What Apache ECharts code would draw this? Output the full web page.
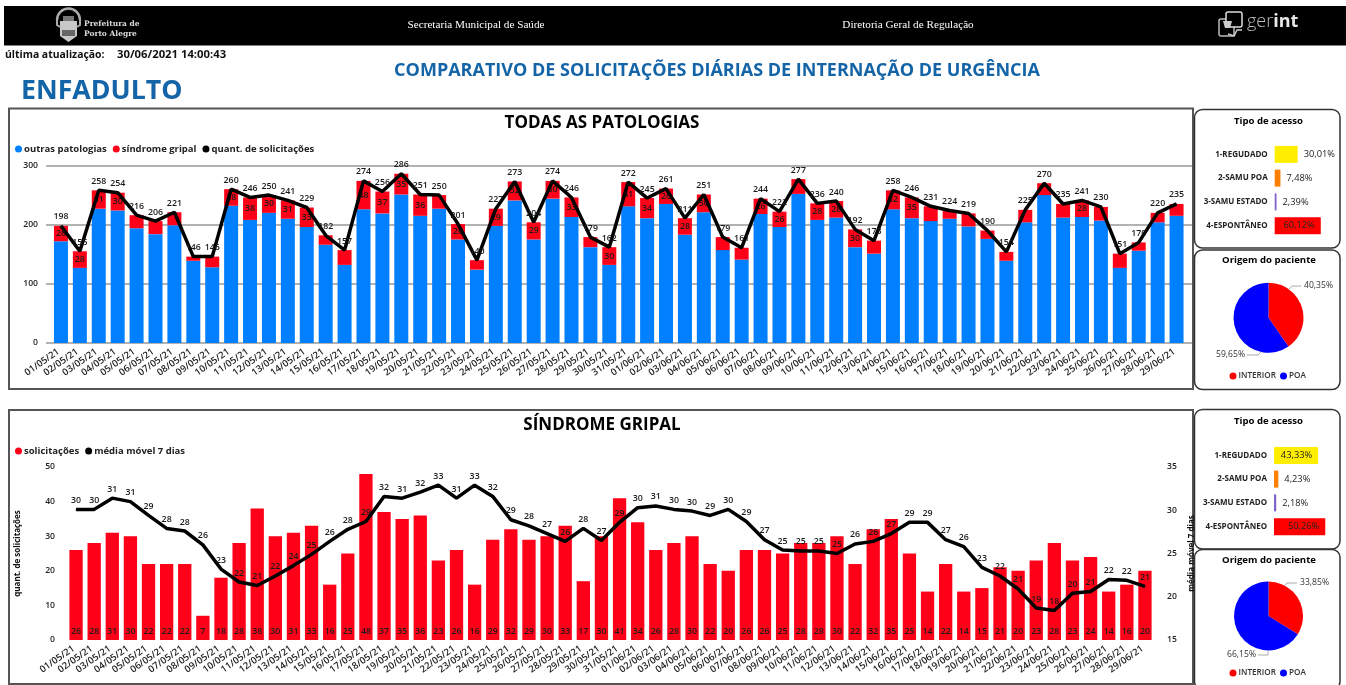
<!DOCTYPE html>
<html><head><meta charset="utf-8">
<script src="https://cdn.jsdelivr.net/npm/echarts@6/dist/echarts.min.js"></script>
<style>html,body{margin:0;padding:0;background:#fff}#c{width:1346px;height:685px}</style>
</head><body><div id="c"></div>
<script>
const dates = ["01/05/21","02/05/21","03/05/21","04/05/21","05/05/21","06/05/21","07/05/21","08/05/21","09/05/21","10/05/21","11/05/21","12/05/21","13/05/21","14/05/21","15/05/21","16/05/21","17/05/21","18/05/21","19/05/21","20/05/21","21/05/21","22/05/21","23/05/21","24/05/21","25/05/21","26/05/21","27/05/21","28/05/21","29/05/21","30/05/21","31/05/21","01/06/21","02/06/21","03/06/21","04/06/21","05/06/21","06/06/21","07/06/21","08/06/21","09/06/21","10/06/21","11/06/21","12/06/21","13/06/21","14/06/21","15/06/21","16/06/21","17/06/21","18/06/21","19/06/21","20/06/21","21/06/21","22/06/21","23/06/21","24/06/21","25/06/21","26/06/21","27/06/21","28/06/21","29/06/21"];
const outrasPatologias = [172,127,227,224,194,184,199,139,128,232,208,220,210,196,166,132,226,219,251,215,227,175,124,198,241,175,244,213,162,132,231,211,235,183,221,157,141,218,196,252,208,212,162,151,226,211,206,210,197,176,139,204,250,212,213,207,127,156,204,215];
const sindromeGripal = [26,28,31,30,22,22,22,7,18,28,38,30,31,33,16,25,48,37,35,36,23,26,16,29,32,29,30,33,17,30,41,34,26,28,30,22,20,26,26,25,28,28,30,22,32,35,25,14,22,14,15,21,20,23,28,23,24,14,16,20];
const quantSolicitacoes = [198,155,258,254,216,206,221,146,146,260,246,250,241,229,182,157,274,256,286,251,250,201,140,227,273,204,274,246,179,162,272,245,261,211,251,179,161,244,222,277,236,240,192,173,258,246,231,224,219,190,154,225,270,235,241,230,151,170,220,235];
const mediaMovel = [30.1,30.1,31.4,31.0,29.4,27.9,27.6,26.0,23.2,21.7,21.3,22.4,23.6,24.9,26.4,27.8,28.7,31.6,31.4,32.1,32.9,31.4,32.9,31.6,28.9,28.2,27.3,26.4,27.9,26.5,28.6,30.3,30.5,30.1,29.9,29.4,30.1,28.7,26.6,25.4,25.3,25.3,25.0,26.1,26.4,27.3,28.6,28.6,26.6,25.8,23.4,22.4,20.9,18.7,18.4,20.4,20.6,22.0,21.9,21.2];
const acessoCategorias = ["1-REGUDADO","2-SAMU POA","3-SAMU ESTADO","4-ESPONTÂNEO"];
const acessoCores = ["#ffee00","#ff8000","#8064c8","#ff0000"];
const acessoTodas = [30.01,7.48,2.39,60.12];
const acessoGripal = [43.33,4.23,2.18,50.26];
const origemNomes = ["INTERIOR","POA"];
const origemTodas = [40.35,59.65];
const origemGripal = [33.85,66.15];

const BLUE='#0080ff', RED='#ff0019', FONT='"Open Sans"';
const br = v => v.toFixed(2).replace('.',',')+'%';
const txt = {fontFamily:FONT,fontSize:9.5,fontWeight:600,color:'#222'};
const dataLbl = {fontFamily:FONT,fontSize:8.8,fontWeight:600,color:'#1a1a1a'};

const chart = echarts.init(document.getElementById('c'),null,{renderer:'canvas'});

function acessoSeries(values,xi,yi,minInside){
  return {type:'bar',xAxisIndex:xi,yAxisIndex:yi,barWidth:17,silent:true,
    data:values.map((v,i)=>({value:v,itemStyle:{color:acessoCores[i]},
      label:v>=minInside?{position:'insideRight',distance:6}:{position:'right',distance:6}})),
    label:{show:true,formatter:p=>br(p.value),fontFamily:FONT,fontSize:9.3,fontWeight:500,color:'#222'}};
}
function origemSeries(values,center,radius){
  return {type:'pie',center,radius,startAngle:90,clockwise:true,silent:true,
    data:values.map((v,i)=>({name:origemNomes[i],value:v,itemStyle:{color:i?'#0000ff':'#ff0000'}})),
    label:{show:false},labelLine:{show:false}};
}
const title=(text,x,y,size,color,extra)=>Object.assign({text,left:x,top:y,textAlign:'center',textVerticalAlign:'middle',padding:0,
  textStyle:{fontFamily:FONT,fontSize:size,fontWeight:700,color:color||'#000'}},extra||{});
const panel=(x,y,w,h,r)=>({type:'rect',z:0,shape:{x,y,width:w,height:h,r:r||0},style:{fill:'none',stroke:r?'#333':'#555',lineWidth:r?1.5:2}});
const leader=(pts)=>({type:'polyline',z:1,shape:{points:pts},style:{stroke:'#aaa',lineWidth:1,fill:'none'}});
const pctText=(v,x,y)=>({type:'text',z:3,x,y,style:{text:br(v),fontFamily:FONT,fontSize:8.6,fontWeight:500,fill:'#333',verticalAlign:'middle'}});
const serifTitle=(t,x,y)=>title(t,x,y,11.2,'#fff',{textStyle:{fontFamily:'"Liberation Serif"',fontSize:11.2,fontWeight:400,color:'#fff'}});
const legendBase={orient:'horizontal',icon:'circle',itemWidth:7,itemHeight:7,itemGap:6,padding:0,selectedMode:false,
  textStyle:{fontFamily:FONT,fontSize:9.5,fontWeight:700,color:'#222',padding:[0,0,0,-3]}};
const pieLegendText={fontFamily:FONT,fontSize:8.2,fontWeight:600,color:'#333',padding:[0,0,0,-3]};

chart.setOption({
  animation:false,
  backgroundColor:'#fff',
  title:[
    {text:'última atualização:',left:5,top:50,padding:0,textStyle:{fontFamily:FONT,fontSize:10.4,fontWeight:700,color:'#111'}},
    {text:'30/06/2021 14:00:43',left:117,top:49,padding:0,textStyle:{fontFamily:FONT,fontSize:11.3,fontWeight:700,color:'#111'}},
    title('COMPARATIVO DE SOLICITAÇÕES DIÁRIAS DE INTERNAÇÃO DE URGÊNCIA',717,71,18,'#1464a8'),
    {text:'ENFADULTO',left:21,top:78,padding:0,textStyle:{fontFamily:FONT,fontSize:26.7,fontWeight:700,color:'#1464a8'}},
    title('TODAS AS PATOLOGIAS',602,123,17),
    title('SÍNDROME GRIPAL',602,425,17),
    title('Tipo de acesso',1268.5,121,9.6),
    title('Origem do paciente',1269,260,9.6),
    title('Tipo de acesso',1268.5,421,9.6),
    title('Origem do paciente',1269,560,9.6),
    serifTitle('Secretaria Municipal de Saúde',476,25),
    serifTitle('Diretoria Geral de Regulação',908,25),
    {text:'Prefeitura de\nPorto Alegre',left:84,top:19,padding:0,textStyle:{fontFamily:'"DejaVu Serif"',fontSize:7.5,lineHeight:10,fontWeight:700,color:'#ddd'}},
    {text:'{a|ger}{b|int}',left:1247,top:13,padding:0,textStyle:{rich:{a:{fontFamily:FONT,fontSize:18,fontWeight:300,color:'#bbb'},b:{fontFamily:FONT,fontSize:18,fontWeight:700,color:'#e8e8e8'}}}}
  ],
  legend:[
    Object.assign({},legendBase,{left:15,top:144,data:['outras patologias','síndrome gripal','quant. de solicitações']}),
    Object.assign({},legendBase,{left:15,top:446,data:['solicitações','média móvel 7 dias']}),
    Object.assign({},legendBase,{left:1229.5,top:372,itemGap:4,textStyle:pieLegendText,data:origemNomes}),
    Object.assign({},legendBase,{left:1229.5,top:669,itemGap:4,textStyle:pieLegendText,data:origemNomes})
  ],
  grid:[
    {left:46,width:1146,top:165.5,height:177.5},
    {left:51.5,width:1134.5,top:165.5,height:177.5},
    {left:67,width:1087,top:467,height:173},
    {left:1274.7,width:61.3,top:142.5,height:95},
    {left:1274,width:61.2,top:443.5,height:95}
  ],
  xAxis:[
    {gridIndex:0,type:'value',show:false,min:0,max:1},
    {gridIndex:1,type:'category',data:dates,boundaryGap:true,axisLine:{show:false},axisTick:{show:false},
      axisLabel:Object.assign({},txt,{interval:0,rotate:35,margin:6,padding:[0,3,0,0]})},
    {gridIndex:2,type:'category',data:dates,boundaryGap:true,axisLine:{show:false},axisTick:{show:false},
      axisLabel:Object.assign({},txt,{interval:0,rotate:35,margin:6,padding:[0,3,0,0]})},
    {gridIndex:3,type:'value',show:false,min:0,max:80},
    {gridIndex:4,type:'value',show:false,min:0,max:60}
  ],
  yAxis:[
    {gridIndex:0,type:'value',min:0,max:300,interval:100,axisLine:{show:false},axisTick:{show:false},
      axisLabel:Object.assign({},txt,{margin:8,fontSize:8.6}),splitLine:{show:true,lineStyle:{color:'#999',width:1.5}}},
    {gridIndex:1,type:'value',min:0,max:300,interval:100,show:false,splitLine:{show:false}},
    {gridIndex:2,type:'value',min:0,max:50,interval:10,axisLine:{show:false},axisTick:{show:false},splitLine:{show:false},
      axisLabel:Object.assign({},txt,{margin:12,fontSize:8.6}),
      name:'quant. de solicitações',nameLocation:'middle',nameRotate:90,nameGap:45,
      nameTextStyle:{fontFamily:FONT,fontSize:8,fontWeight:700,color:'#111'}},
    {gridIndex:2,type:'value',position:'right',min:15,max:35,interval:5,axisLine:{show:false},axisTick:{show:false},splitLine:{show:false},
      axisLabel:Object.assign({},txt,{margin:13,fontSize:8.6}),
      name:'média móvel 7 dias',nameLocation:'middle',nameRotate:90,nameGap:25,
      nameTextStyle:{fontFamily:FONT,fontSize:8,fontWeight:700,color:'#111'}},
    {gridIndex:3,type:'category',inverse:true,data:acessoCategorias,axisLine:{show:false},axisTick:{show:false},
      axisLabel:{fontFamily:FONT,fontSize:8,fontWeight:700,color:'#222',margin:7,interval:0}},
    {gridIndex:4,type:'category',inverse:true,data:acessoCategorias,axisLine:{show:false},axisTick:{show:false},
      axisLabel:{fontFamily:FONT,fontSize:8,fontWeight:700,color:'#222',margin:7,interval:0}}
  ],
  series:[
    {name:'outras patologias',type:'bar',stack:'t',xAxisIndex:1,yAxisIndex:1,barWidth:14,data:outrasPatologias,itemStyle:{color:BLUE},silent:true},
    {name:'síndrome gripal',type:'bar',stack:'t',xAxisIndex:1,yAxisIndex:1,barWidth:14,data:sindromeGripal,itemStyle:{color:RED},silent:true,
      label:Object.assign({show:true,position:'inside',formatter:p=>p.value>=26?p.value:''},dataLbl)},
    {name:'quant. de solicitações',type:'line',xAxisIndex:1,yAxisIndex:1,data:quantSolicitacoes,symbol:'circle',symbolSize:1,showSymbol:true,showAllSymbol:true,silent:true,
      lineStyle:{color:'#000',width:3.5},itemStyle:{color:'#000'},z:5,
      label:Object.assign({show:true,position:'top',distance:4},dataLbl)},
    {name:'solicitações',type:'bar',xAxisIndex:2,yAxisIndex:2,barWidth:13.3,data:sindromeGripal,itemStyle:{color:RED},silent:true,
      label:Object.assign({show:true,position:'insideBottom',distance:4},dataLbl)},
    {name:'média móvel 7 dias',type:'line',xAxisIndex:2,yAxisIndex:3,data:mediaMovel,symbol:'circle',symbolSize:1,showSymbol:true,showAllSymbol:true,silent:true,
      lineStyle:{color:'#000',width:3.5},itemStyle:{color:'#000'},z:5,
      label:Object.assign({show:true,position:'top',distance:4,formatter:p=>Math.round(p.value)},dataLbl)},
    acessoSeries(acessoTodas,3,4,50),
    acessoSeries(acessoGripal,4,5,40),
    origemSeries(origemTodas,[1268.5,317.7],[0,35]),
    origemSeries(origemGripal,[1268.5,616],[0,34.5])
  ],
  graphic:[
    {type:'rect',z:-1,shape:{x:4,y:6,width:1342,height:39.5},style:{fill:'#000'}},
    panel(9,108.5,1184,280.5),
    panel(9,410,1184,274),
    panel(1194.5,109.5,145.5,138.5,8),
    panel(1194.5,250,145.5,139.5,8),
    panel(1194.5,409.5,145.5,139.5,8),
    panel(1194.5,549.5,145.5,140,8),
    leader([[1289,289],[1292,286],[1301,286]]),
    leader([[1262,351],[1258,355],[1247,355]]),
    leader([[1284,586],[1287,583],[1297,583]]),
    leader([[1268,651],[1268,655],[1258,655]]),
    pctText(origemTodas[0],1304,286),
    pctText(origemTodas[1],1216,355),
    pctText(origemGripal[0],1300,583),
    pctText(origemGripal[1],1227,655),
    {type:'polygon',z:1,shape:{points:[[60,21],[77,21],[77,36],[68.5,42],[60,36]]},style:{fill:'#c8c8c8'}},
    {type:'rect',z:1,shape:{x:62,y:30,width:13,height:6},style:{fill:'#666'}},
    {type:'arc',z:1,shape:{cx:68.5,cy:20,r:11.5,startAngle:Math.PI,endAngle:0},style:{stroke:'#aaa',lineWidth:2.5,fill:'none'}},
    {type:'polyline',z:1,shape:{points:[[57,20],[57,25],[60,27]]},style:{stroke:'#aaa',lineWidth:2,fill:'none'}},
    {type:'polyline',z:1,shape:{points:[[80,20],[80,25],[77,27]]},style:{stroke:'#aaa',lineWidth:2,fill:'none'}},
    {type:'rect',z:1,shape:{x:63,y:16,width:11,height:5},style:{fill:'#777'}},
    {type:'rect',z:1,shape:{x:1219,y:19,width:15,height:17,r:2},style:{stroke:'#bbb',lineWidth:1.5,fill:'none'}},
    {type:'rect',z:1,shape:{x:1226,y:12,width:16,height:15,r:2},style:{stroke:'#ddd',lineWidth:1.5,fill:'#000'}},
    {type:'polygon',z:1,shape:{points:[[1223,21],[1232,21],[1230,28],[1225,28]]},style:{fill:'#ccc'}},
    {type:'polyline',z:1,shape:{points:[[1228,34],[1234,36],[1237,30],[1242,30]]},style:{stroke:'#ccc',lineWidth:1.5,fill:'none'}}
  ]
});
</script></body></html>
